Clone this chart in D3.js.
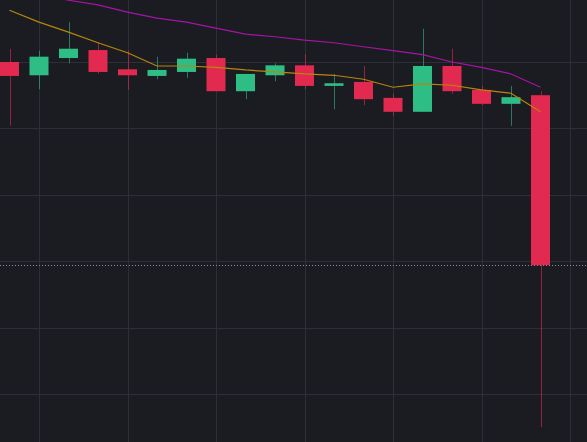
<!DOCTYPE html>
<html><head><meta charset="utf-8">
<script src="https://cdn.jsdelivr.net/npm/d3@7"></script>
<style>html,body{margin:0;padding:0;background:#1b1c21;overflow:hidden}</style>
</head><body><svg id="c" width="587" height="442"></svg>
<script>
const opens  = [100.00,99.80,100.06,100.18,99.89,99.79,99.85,100.06,99.56,99.80,99.95,99.64,99.70,99.46,99.25,99.94,99.58,99.37,99.50];
const highs  = [100.20,100.17,100.60,100.30,100.17,100.08,100.14,100.11,99.82,99.98,100.12,99.82,99.94,99.52,100.50,100.20,99.64,99.64,99.56];
const lows   = [99.04,99.59,99.98,99.82,99.58,99.74,99.76,99.56,99.44,99.71,99.59,99.29,99.35,99.19,99.25,99.52,99.35,99.04,94.50];
const closes = [99.79,100.08,100.20,99.85,99.80,99.88,100.05,99.56,99.82,99.95,99.64,99.68,99.44,99.25,99.94,99.56,99.37,99.47,96.94];
const maShort = [100.78,100.60,100.45,100.29,100.14,99.94,99.94,99.92,99.88,99.85,99.82,99.80,99.74,99.62,99.67,99.65,99.58,99.53,99.25];
const maLong = [null,101.02,100.93,100.86,100.75,100.66,100.60,100.51,100.42,100.38,100.33,100.29,100.23,100.17,100.11,100.00,99.92,99.82,99.62];
const priceTicks = [95,96,97,98,99,100];
const lastPrice = 96.94;

const W=587,H=442;
const svg=d3.select("#c");
const x=d3.scaleLinear().domain([0,1]).range([9.5,39]);
const y=d3.scaleLinear().domain([95,100]).range([394,62]);
const bw=19;
svg.append("rect").attr("width",W).attr("height",H).attr("fill","#1b1c21");
const g=svg.append("g");
g.selectAll(".hg").data(priceTicks).join("line").attr("x1",0).attr("x2",W)
 .attr("y1",d=>Math.round(y(d))+0.5).attr("y2",d=>Math.round(y(d))+0.5).attr("stroke","#2c2f36");
g.selectAll(".vg").data(d3.range(1,20,3)).join("line").attr("y1",0).attr("y2",H)
 .attr("x1",d=>Math.round(x(d))+0.5).attr("x2",d=>Math.round(x(d))+0.5).attr("stroke","#2c2f36");
const idx=d3.range(opens.length);
const col=i=>closes[i]>=opens[i]?"#2ebd85":"#e2294f";
g.selectAll(".w").data(idx).join("line")
 .attr("x1",i=>Math.round(x(i))+0.5).attr("x2",i=>Math.round(x(i))+0.5)
 .attr("y1",i=>y(highs[i])).attr("y2",i=>y(lows[i])).attr("stroke",i=>col(i)).attr("stroke-opacity",0.6);
g.selectAll(".b").data(idx).join("rect")
 .attr("x",i=>x(i)-bw/2).attr("width",bw)
 .attr("y",i=>y(Math.max(opens[i],closes[i])))
 .attr("height",i=>Math.max(2,Math.abs(y(opens[i])-y(closes[i]))))
 .attr("fill",col);
const line=d3.line().defined(d=>d[1]!=null).x(d=>x(d[0])).y(d=>y(d[1]));
g.append("path").attr("d",line(maShort.map((v,i)=>[i,v]))).attr("fill","none").attr("stroke","#b8860b").attr("stroke-width",1.2);
g.append("path").attr("d",line(maLong.map((v,i)=>[i,v]))).attr("fill","none").attr("stroke","#a614a6").attr("stroke-width",1.2);
g.append("line").attr("x1",0).attr("x2",W).attr("y1",Math.round(y(lastPrice))+0.5).attr("y2",Math.round(y(lastPrice))+0.5)
 .attr("stroke","#8a8d94").attr("stroke-dasharray","1,2");
</script></body></html>
